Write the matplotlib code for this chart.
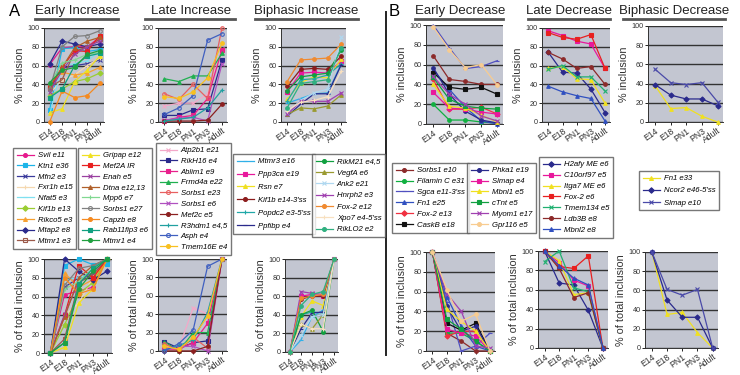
import matplotlib
matplotlib.use("Agg")
import matplotlib.pyplot as plt
from matplotlib.lines import Line2D

plt.rcParams['font.family'] = ['Liberation Sans', 'DejaVu Sans']

W, H = 740, 375
stages = ["E14", "E18", "PN1", "PN3", "Adult"]

# ---- Early Increase ----
ei_names = ["Svil e11", "Ktn1 e36", "Mfn2 e3", "Fxr1h e15", "Nfat5 e3", "Kif1b e13",
            "Rikco5 e3", "Mtap2 e8", "Mtmr1 e3", "Gripap e12", "Mef2A IR", "Enah e5",
            "Dtna e12,13", "Mpp6 e7", "Sorbs1 e27", "Capzb e8", "Rab11fip3 e6", "Mtmr1 e4"]
ei_top = [[61, 79, 80, 80, 90], [13, 78, 79, 75, 77], [35, 57, 60, 62, 66],
          [30, 45, 50, 60, 68], [8, 60, 62, 65, 75], [28, 35, 43, 46, 52],
          [40, 53, 50, 52, 58], [62, 86, 83, 80, 83], [37, 45, 75, 80, 88],
          [10, 14, 43, 55, 70], [36, 58, 76, 75, 92], [32, 55, 72, 80, 86],
          [38, 58, 79, 86, 90], [40, 63, 66, 72, 74], [35, 80, 91, 92, 97],
          [0, 33, 26, 28, 41], [26, 35, 60, 70, 73], [42, 55, 58, 72, 76]]
ei_bottom = [[0, 62, 66, 70, 100], [0, 93, 100, 94, 95], [0, 70, 80, 85, 100],
             [0, 40, 53, 80, 100], [0, 78, 80, 85, 100], [0, 30, 63, 75, 100],
             [0, 85, 70, 78, 100], [0, 100, 87, 78, 87], [0, 15, 75, 83, 100],
             [0, 6, 53, 68, 100], [0, 40, 93, 80, 100], [0, 41, 76, 86, 100],
             [0, 38, 80, 93, 100], [0, 68, 76, 90, 100], [0, 72, 90, 93, 100],
             [0, 80, 63, 68, 100], [0, 11, 73, 90, 100], [0, 11, 68, 87, 100]]
ei_colors = ["#e6198c", "#1cb4e8", "#3a3a9c", "#f5d8b0", "#7fe0f0", "#9acd32",
             "#f7a030", "#2a2a8c", "#9c5a4a", "#f0e020", "#e82020", "#9a40a0",
             "#b0602a", "#80d890", "#808080", "#f58a20", "#10a080", "#20a040"]
ei_markers = ["o", "s", "x", "+", "_", "D", "^", "D", "s", "^", "s", "x",
              "^", "+", "o", "o", "s", "o"]
ei_open = [8, 14]

# ---- Late Increase ----
li_names = ["Atp2b1 e21", "RikH16 e4", "Ablim1 e9", "Frmd4a e22", "Sorbs1 e23",
            "Sorbs1 e6", "Mef2c e5", "R3hdm1 e4,5", "Asph e4", "Tmem16E e4"]
li_top = [[17, 20, 20, 30, 78], [7, 7, 13, 14, 66], [1, 5, 7, 25, 77],
          [46, 43, 49, 49, 73], [30, 24, 40, 25, 100], [2, 4, 5, 1, 62],
          [1, 1, 1, 2, 19], [1, 3, 5, 15, 34], [8, 15, 28, 87, 94],
          [27, 25, 32, 47, 84]]
li_bottom = [[5, 3, 47, 40, 100], [10, 3, 9, 11, 100], [2, 2, 9, 30, 100],
             [10, 0, 20, 20, 100], [8, 0, 15, 3, 100], [3, 5, 5, 0, 100],
             [0, 0, 0, 5, 100], [1, 6, 12, 42, 100], [0, 8, 23, 92, 100],
             [5, 2, 15, 38, 100]]
li_colors = ["#f4a8c8", "#2a2a8c", "#e8208c", "#20b050", "#e86060", "#b050c0",
             "#8c2020", "#20a0a0", "#4060c0", "#f8c020"]
li_markers = ["x", "s", "s", "^", "o", "x", "o", "+", "o", "o"]
li_open = [4, 8]

# ---- Biphasic Increase ----
bi_names = ["Mtmr3 e16", "Ppp3ca e19", "Rsn e7", "Kif1b e14-3'ss", "Popdc2 e3-5'ss",
            "Ppfibp e4", "RikM21 e4,5", "VegfA e6", "Ank2 e21", "Hnrph2 e3",
            "Fox-2 e12", "Xpo7 e4-5'ss", "RikLO2 e2"]
bi_top = [[20, 25, 30, 31, 62], [32, 52, 53, 52, 65], [24, 42, 48, 47, 67],
          [38, 56, 57, 56, 70], [22, 45, 46, 50, 62], [6, 19, 30, 30, 61],
          [33, 48, 50, 52, 77], [8, 15, 14, 17, 29], [10, 23, 31, 35, 90],
          [8, 22, 22, 22, 31], [43, 66, 67, 68, 83], [12, 21, 23, 27, 54],
          [15, 41, 43, 45, 79]]
bi_bottom = [[0, 13, 38, 45, 100], [0, 60, 62, 60, 100], [0, 38, 55, 50, 100],
             [0, 57, 60, 60, 100], [0, 40, 43, 42, 100], [0, 25, 42, 43, 100],
             [0, 40, 45, 22, 100], [0, 30, 25, 40, 100], [0, 18, 38, 40, 100],
             [0, 65, 63, 62, 100], [0, 58, 60, 62, 100], [0, 30, 25, 25, 100],
             [0, 50, 62, 65, 100]]
bi_colors = ["#30b0e8", "#e8189c", "#f0e020", "#8c1c1c", "#20a8a8", "#2a2a8c",
             "#10a040", "#9a9a30", "#b0d8f0", "#a040b0", "#f08a30", "#f8e0c0",
             "#30b080"]
bi_markers = ["_", "s", "^", "o", "+", "_", "o", "^", "x", "x", "o", "+", "o"]
bi_open = []

# ---- Early Decrease ----
ed_names = ["Sorbs1 e10", "Filamin C e31", "Sgca e11-3'ss", "Fn1 e25", "Fox-2 e13",
            "CaskB e18", "Phka1 e19", "Slmap e4", "Mbnl1 e5", "cTnt e5",
            "Myom1 e17", "Gpr116 e5"]
ed_top = [[69, 45, 43, 40, 40], [20, 4, 4, 2, 1], [100, 77, 56, 58, 64],
          [55, 35, 17, 3, 0], [45, 15, 15, 17, 10], [52, 37, 35, 37, 30],
          [57, 30, 13, 4, 1], [32, 16, 15, 12, 10], [40, 18, 16, 9, 2],
          [47, 25, 18, 16, 15], [48, 30, 20, 8, 3], [98, 75, 57, 60, 39]]
ed_bottom = [[100, 18, 10, 0, 0], [100, 18, 18, 10, 0], [100, 50, 0, 5, 18],
             [100, 55, 25, 5, 0], [100, 15, 20, 20, 0], [100, 28, 21, 28, 0],
             [100, 45, 20, 25, 0], [100, 22, 18, 15, 0], [100, 42, 30, 20, 0],
             [100, 32, 22, 10, 0], [100, 58, 40, 5, 3], [100, 62, 30, 37, 0]]
ed_colors = ["#8c2a2a", "#10b040", "#5050c0", "#3050c0", "#f03040", "#111111",
             "#2a2a8c", "#e8189c", "#f0e020", "#10a040", "#a040b0", "#f8cc90"]
ed_markers = ["o", "o", "_", "^", "D", "s", "o", "s", "^", "s", "x", "o"]
ed_open = []

# ---- Late Decrease ----
ld_names = ["H2afy ME e6", "C10orf97 e5", "Itga7 ME e6", "Fox-2 e6",
            "Tmem134 e5", "Ldb3B e8", "Mbnl2 e8"]
ld_top = [[74, 53, 52, 35, 10], [97, 92, 86, 83, 57], [57, 59, 46, 45, 20],
          [95, 90, 88, 93, 57], [56, 60, 48, 48, 33], [74, 67, 57, 59, 40],
          [38, 32, 28, 25, 1]]
ld_bottom = [[100, 67, 65, 39, 0], [100, 88, 70, 64, 0], [100, 90, 55, 57, 0],
             [100, 84, 82, 95, 0], [89, 100, 62, 58, 0], [100, 82, 52, 57, 0],
             [100, 85, 72, 65, 0]]
ld_colors = ["#2a2a8c", "#e8189c", "#f0e020", "#e82020", "#20b070", "#8c2a2a",
             "#3050c0"]
ld_markers = ["D", "s", "^", "s", "x", "o", "^"]
ld_open = []

# ---- Biphasic Decrease ----
bd_names = ["Fn1 e33", "Ncor2 e46-5'ss", "Slmap e10"]
bd_top = [[38, 14, 15, 6, 0], [39, 28, 24, 24, 17], [55, 41, 39, 41, 21]]
bd_bottom = [[100, 35, 37, 16, 0], [100, 50, 32, 32, 0], [100, 61, 55, 61, 0]]
bd_colors = ["#f0e020", "#2a2a8c", "#4a4aa8"]
bd_markers = ["^", "D", "x"]
bd_open = []

fig = plt.figure(figsize=(W / 100, H / 100), dpi=100)


def add_ax(l, t, r, b):
    return fig.add_axes([l / W, 1 - b / H, (r - l) / W, (b - t) / H])


def draw_panel(box, data, colors, markers, open_idx, ylabel):
    ax = add_ax(*box)
    ax.set_facecolor("#c3c6d1")
    for i, vals in enumerate(data):
        mfc = "none" if i in open_idx else colors[i]
        ax.plot(range(5), vals, color=colors[i], marker=markers[i], lw=0.9,
                ms=2.6, mew=0.8, mfc=mfc, mec=colors[i], clip_on=False, zorder=3)
    ax.set_xlim(-0.45, 4.35)
    ax.set_ylim(0, 100)
    ax.set_yticks(range(0, 101, 20))
    ax.yaxis.grid(True, color="#333333", lw=1.0)
    ax.set_axisbelow(True)
    ax.set_xticks(range(5))
    ax.set_xticklabels(stages, rotation=35, ha="right", rotation_mode="anchor",
                       fontsize=6.2, color="#333333")
    ax.tick_params(axis="y", labelsize=5.2, length=2, width=0.6, pad=1,
                   labelcolor="#333333")
    ax.tick_params(axis="x", length=2, width=0.6, pad=1)
    for s in ["top", "right"]:
        ax.spines[s].set_visible(False)
    for s in ["left", "bottom"]:
        ax.spines[s].set_linewidth(0.7)
        ax.spines[s].set_color("#333333")
    ax.set_ylabel(ylabel, fontsize=7.8, labelpad=2, color="#333333")
    return ax


groups = [
    (ei_top, ei_bottom, ei_colors, ei_markers, ei_open,
     (44, 28, 104, 122), (44, 259, 112, 353)),
    (li_top, li_bottom, li_colors, li_markers, li_open,
     (158, 28, 227, 122), (158, 259, 227, 351)),
    (bi_top, bi_bottom, bi_colors, bi_markers, bi_open,
     (281, 28, 346, 122), (285, 259, 338, 352)),
    (ed_top, ed_bottom, ed_colors, ed_markers, ed_open,
     (426, 25, 503, 124), (426, 252, 495, 351)),
    (ld_top, ld_bottom, ld_colors, ld_markers, ld_open,
     (542, 28, 610, 122), (538, 251, 608, 348)),
    (bd_top, bd_bottom, bd_colors, bd_markers, bd_open,
     (648, 26, 723, 122), (645, 252, 718, 348)),
]
for top, bottom, cols, mks, opn, tbox, bbox in groups:
    draw_panel(tbox, top, cols, mks, opn, "% inclusion")
    draw_panel(bbox, bottom, cols, mks, opn, "% of total inclusion")

# titles with underline
titles = [("Early Increase", 77, 35, 118), ("Late Increase", 191, 145, 235),
          ("Biphasic Increase", 306, 255, 358), ("Early Decrease", 460, 415, 503),
          ("Late Decrease", 569, 528, 610), ("Biphasic Decrease", 674, 623, 725)]
for txt, cx, x0, x1 in titles:
    fig.text(cx / W, 1 - 11 / H, txt, ha="center", va="center", fontsize=9.5,
             color="#222222")
    fig.add_artist(Line2D([x0 / W, x1 / W], [1 - 19 / H, 1 - 19 / H],
                          color="#555555", lw=2.0))

fig.text(15 / W, 1 - 11 / H, "A", ha="center", va="center", fontsize=12)
fig.text(394 / W, 1 - 12 / H, "B", ha="center", va="center", fontsize=12)
fig.add_artist(Line2D([386 / W, 386 / W], [1 - 12 / H, 1 - 355 / H],
                      color="#222222", lw=1.4))


# legends
def add_legend(names, colors, markers, open_idx, idx, x, y, spacing):
    handles = []
    for i in idx:
        mfc = "none" if i in open_idx else colors[i]
        handles.append(Line2D([], [], color=colors[i], marker=markers[i], lw=0.9,
                              ms=2.8, mew=0.8, mfc=mfc, mec=colors[i]))
    leg = fig.legend(handles, [names[i] for i in idx], loc="upper left",
                     bbox_to_anchor=(x / W, 1 - y / H),
                     prop={"family": "Liberation Sans", "style": "italic",
                           "size": 5.6},
                     frameon=True, fancybox=False, handlelength=2.2,
                     handletextpad=0.5, labelspacing=spacing, borderpad=0.5,
                     borderaxespad=0)
    leg.get_frame().set_edgecolor("#555555")
    leg.get_frame().set_linewidth(1.0)


add_legend(ei_names, ei_colors, ei_markers, ei_open, range(0, 9), 13, 148, 0.42)
add_legend(ei_names, ei_colors, ei_markers, ei_open, range(9, 18), 78, 148, 0.42)
add_legend(li_names, li_colors, li_markers, li_open, range(0, 10), 156, 143, 0.42)
add_legend(bi_names, bi_colors, bi_markers, bi_open, range(0, 6), 233, 154, 0.7)
add_legend(bi_names, bi_colors, bi_markers, bi_open, range(6, 13), 312, 154, 0.5)
add_legend(ed_names, ed_colors, ed_markers, ed_open, range(0, 6), 392, 163, 0.45)
add_legend(ed_names, ed_colors, ed_markers, ed_open, range(6, 12), 467, 163, 0.45)
add_legend(ld_names, ld_colors, ld_markers, ld_open, range(0, 7), 539, 157, 0.45)
add_legend(bd_names, bd_colors, bd_markers, bd_open, range(0, 3), 639, 171, 0.6)

fig.savefig("out.png", dpi=100)
